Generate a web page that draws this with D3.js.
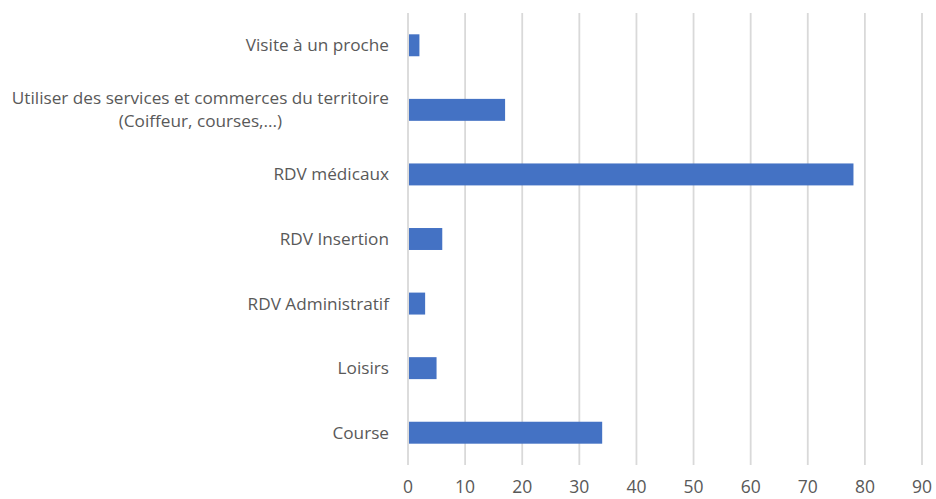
<!DOCTYPE html>
<html>
<head>
<meta charset="utf-8">
<script src="https://cdn.jsdelivr.net/npm/d3@7"></script>
<style>
  body { margin: 0; background: #fff; }
  text { font-family: "Open Sans", sans-serif; fill: #595959; }
</style>
</head>
<body>
<svg id="chart" width="936" height="499"></svg>
<script>
// categories top to bottom
const categories = [
  "Visite à un proche",
  "Utiliser des services et commerces du territoire|(Coiffeur, courses,...)",
  "RDV médicaux",
  "RDV Insertion",
  "RDV Administratif",
  "Loisirs",
  "Course"
];
const values = [2, 17, 78, 6, 3, 5, 34];
const xTicks = [0, 10, 20, 30, 40, 50, 60, 70, 80, 90];

const svg = d3.select("#chart");
const plotL = 408, plotR = 922, plotT = 13, plotB = 465;
const labelSize = "17.2px";

const x = d3.scaleLinear().domain([0, 90]).range([plotL, plotR]);
const y = d3.scaleBand().domain(categories).range([plotT, plotB]).paddingInner(0.66).paddingOuter(0.33);

/**** grid ****/
svg.append("g").selectAll("line").data(xTicks).join("line")
  .attr("x1", d => x(d)).attr("x2", d => x(d))
  .attr("y1", plotT).attr("y2", plotB)
  .attr("stroke", "#d9d9d9").attr("stroke-width", 1.8);

/**** bars ****/
svg.append("g").selectAll("rect").data(values).join("rect")
  .attr("x", x(0) + 1)
  .attr("y", (d, i) => y(categories[i]))
  .attr("width", d => x(d) - x(0) - 1)
  .attr("height", y.bandwidth())
  .attr("fill", "#4472c4");

/**** x tick labels ****/
svg.append("g").selectAll("text").data(xTicks).join("text")
  .attr("x", d => x(d)).attr("y", 493)
  .attr("text-anchor", "middle")
  .style("font-size", "17.5px")
  .text(d => d);

/**** category labels ****/
const labels = svg.append("g").selectAll("text").data(categories).join("text")
  .attr("text-anchor", "middle")
  .style("font-size", labelSize);

labels.each(function (d) {
  const lines = d.split("|");
  const cy = y(d) + y.bandwidth() / 2;
  const t = d3.select(this);
  // widest line ends at the label edge, others centred under it
  const tmp = svg.append("text").style("font-size", labelSize).text(lines[0]);
  const w = tmp.node().getComputedTextLength();
  tmp.remove();
  const cx = plotL - 19 - w / 2;
  lines.forEach(function (line, k) {
    t.append("tspan")
      .attr("x", cx)
      .attr("y", cy + 6 + (k - (lines.length - 1) / 2) * 23)
      .text(line);
  });
});
</script>
</body>
</html>
